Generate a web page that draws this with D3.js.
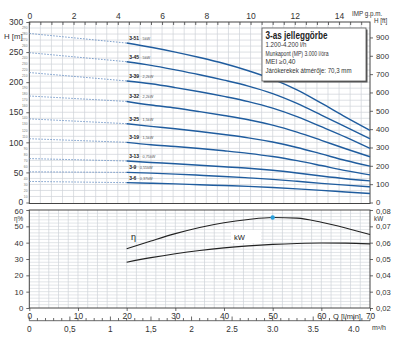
<!DOCTYPE html>
<html><head><meta charset="utf-8">
<script src="https://cdn.jsdelivr.net/npm/d3@7"></script>
<style>
body{margin:0;background:#fff;}
svg{display:block;font-family:"Liberation Sans Narrow","Arial Narrow","Liberation Sans",sans-serif;}
</style></head><body>
<svg id="c" width="400" height="342"></svg>
<script>
// ---------- data ----------
const seriesNames = ["3-51","3-45","3-39","3-32","3-25","3-19","3-13","3-9","3-6"];
const seriesPower = ["5kW","5kW","2,2kW","2,2kW","1,5kW","1,5kW","0,75kW","0,55kW","0,37kW"];
const flowLmin = [20,25,30,35,40,45,50,55,60,65,70];
const shutoffHead = [281,249,216,177,139,106,73,51,35];
const head_3_51 = [265,258,250,241,231,219,205,187,165,142,120];
const head_3_45 = [234,228,220.5,212.4,203.4,193.5,181,164.7,145.4,125.6,106];
const head_3_39 = [202,197.3,191,184,176.3,167.7,156.8,142.7,126,108.8,90];
const head_3_32 = [168,162,157,151,144.6,137.6,128.6,117,103.4,89.3,76];
const head_3_25 = [131,126.5,122.5,118,113,107.5,100.5,91.5,80.8,69.8,60.5];
const head_3_19 = [100,96.1,93.1,89.7,85.9,81.7,76.4,69.5,61.4,53,46];
const head_3_13 = [69,66.5,64.5,62,59.5,57,53.5,49,44,39.5,36];
const head_3_9  = [50,48.8,47.2,45.3,43.3,41,38.5,35.3,31.8,28.8,26];
const head_3_6  = [33,32,31,29.5,28.2,26.8,25,22.7,20.1,17.5,15];
const heads = [head_3_51,head_3_45,head_3_39,head_3_32,head_3_25,head_3_19,head_3_13,head_3_9,head_3_6];
const efficiency = [36.3,41,45.5,49.3,52.2,54.2,55.4,55,52.5,49,45];
const powerKw = [0.048,0.0508,0.0532,0.0552,0.0568,0.058,0.0589,0.0595,0.0598,0.0597,0.0592];
const mpFlow = 50, mpEff = 55.4;
const impTicks = [0,2,4,6,8,10,12,14];
const m3hLabels = ["0","0,5","1","1,5","2","2.5","3.0","3.5","4.0"];
const legendTitle = "3-as jelleggörbe";
const legendLines = ["1.200-4.200 l/h","Munkapont (MP) 3.000 l/óra","MEI ≥0,40","Járókerekek átmérője: 70,3 mm"];

// ---------- scales ----------
const X0 = 29.3, X1 = 370;
const x = d3.scaleLinear([0,70],[X0,X1]);
const xImp = d3.scaleLinear([0,70/4.54609],[X0,X1]);
const xM3 = d3.scaleLinear([0,4.2],[X0,X1]);
const yH = d3.scaleLinear([0,300],[202.5,22]);
const yFt = d3.scaleLinear([0,300/0.3048],[202.5,22]);
const yE = d3.scaleLinear([0,60],[308,210]);
const yK = d3.scaleLinear([0.02,0.08],[308,210]);

const svg = d3.select("#c");
const GRID = "#cfd3d8";
const AX = "#444";
const TXT = "#333";

// ---------- grids ----------
const g1 = svg.append("g");
g1.selectAll("line.v").data(d3.range(0.5,15.4,0.5)).join("line")
  .attr("x1",d=>xImp(d)).attr("x2",d=>xImp(d)).attr("y1",22).attr("y2",203.5)
  .attr("stroke",GRID).attr("stroke-width",0.7);
g1.selectAll("line.h").data(d3.range(10,300,10)).join("line")
  .attr("x1",X0).attr("x2",X1).attr("y1",d=>yH(d)).attr("y2",d=>yH(d))
  .attr("stroke",GRID).attr("stroke-width",0.7);
const g2 = svg.append("g");
g2.selectAll("line.v").data(d3.range(2,70,2)).join("line")
  .attr("x1",d=>x(d)).attr("x2",d=>x(d)).attr("y1",210).attr("y2",308)
  .attr("stroke",GRID).attr("stroke-width",0.7);
g2.selectAll("line.h").data(d3.range(2,60,2)).join("line")
  .attr("x1",X0).attr("x2",X1).attr("y1",d=>yE(d)).attr("y2",d=>yE(d))
  .attr("stroke",GRID).attr("stroke-width",0.6);

// frames
svg.append("rect").attr("x",X0).attr("y",22).attr("width",X1-X0).attr("height",181.5)
  .attr("fill","none").attr("stroke",AX).attr("stroke-width",1);
svg.append("rect").attr("x",X0).attr("y",210).attr("width",X1-X0).attr("height",98)
  .attr("fill","none").attr("stroke",AX).attr("stroke-width",1);

function styleAxis(g, fs){
  g.select(".domain").remove();
  g.selectAll(".tick line").attr("stroke",AX).attr("stroke-width",0.8);
  g.selectAll("text").attr("fill",TXT).attr("font-size",fs).attr("font-family",null);
}

// ---------- top axes ----------
svg.append("g").attr("transform","translate(0,22)")
  .call(d3.axisTop(xImp).tickValues(d3.range(0,15.01,0.5)).tickSize(-3).tickPadding(3)
    .tickFormat(d=>impTicks.includes(d)?d:""))
  .call(g=>styleAxis(g,8.5));
svg.append("g").attr("transform",`translate(${X0},0)`)
  .call(d3.axisLeft(yH).tickValues(d3.range(0,301,50)).tickSize(3).tickPadding(2))
  .call(g=>styleAxis(g,8.5))
  .call(g=>g.selectAll(".tick text").attr("x",-6))
  .call(g=>g.selectAll(".tick").filter(d=>d===0).select("text").attr("dy","0.25em"));
svg.append("g").selectAll("text").data(d3.range(10,300,10).filter(d=>d%50!==0)).join("text")
  .attr("x",27.5).attr("y",d=>yH(d)+1.2).attr("text-anchor","end")
  .attr("font-size",3.3).attr("fill","#777").text(d=>d);
svg.append("g").attr("transform",`translate(${X1},0)`)
  .call(d3.axisRight(yFt).tickValues(d3.range(0,901,100)).tickSize(3).tickPadding(3))
  .call(g=>styleAxis(g,7.8))
  .call(g=>g.selectAll(".tick").filter(d=>d===0).select("text").attr("dy","0.2em"));
svg.append("text").attr("x",4).attr("y",38.5).attr("font-size",7.8).attr("fill",TXT).text("H [m]");
svg.append("text").attr("x",352).attr("y",16).attr("font-size",6.3).attr("fill",TXT).text("IMP g.p.m.");
svg.append("text").attr("x",374).attr("y",22.5).attr("font-size",6.3).attr("fill",TXT).text("H [ft]");

// ---------- bottom axes ----------
svg.append("g").attr("transform",`translate(${X0},0)`)
  .call(d3.axisLeft(yE).tickValues(d3.range(0,61,10)).tickSize(3).tickPadding(2))
  .call(g=>styleAxis(g,7.8))
  .call(g=>g.selectAll(".tick text").attr("x",-6))
  .call(g=>g.selectAll(".tick").filter(d=>d===60).select("text").attr("dy","0.45em"));
svg.append("text").attr("x",14).attr("y",221.3).attr("font-size",6.3).attr("fill",TXT).text("η%");
svg.append("g").attr("transform",`translate(${X1},0)`)
  .call(d3.axisRight(yK).tickValues(d3.range(2,9).map(d=>d/100)).tickSize(3).tickPadding(3)
    .tickFormat(d=>d3.format(".2f")(d).replace(".",",")))
  .call(g=>styleAxis(g,7.6))
  .call(g=>g.selectAll(".tick").filter(d=>d===0.08).select("text").attr("dy","0.4em"));
svg.append("text").attr("x",374).attr("y",221.3).attr("font-size",6.3).attr("fill",TXT).text("kW");
svg.append("g").attr("transform","translate(0,308)")
  .call(d3.axisBottom(x).tickValues(d3.range(0,71,10)).tickSize(3).tickPadding(2))
  .call(g=>styleAxis(g,8.3));
svg.append("text").attr("x",333).attr("y",318.5).attr("font-size",7.5).attr("fill",TXT).text("Q [l/min]");
svg.append("line").attr("x1",X0).attr("x2",X1).attr("y1",320.7).attr("y2",320.7).attr("stroke",AX).attr("stroke-width",0.8);
svg.append("g").selectAll("line").data(d3.range(0,4.201,0.1)).join("line")
  .attr("x1",d=>xM3(d)).attr("x2",d=>xM3(d)).attr("y1",320.7)
  .attr("y2",(d,i)=> i%5===0?316.5:318)
  .attr("stroke",AX).attr("stroke-width",0.8);
svg.append("g").selectAll("text").data(m3hLabels).join("text")
  .attr("x",(d,i)=>xM3(i*0.5)).attr("y",331.5).attr("text-anchor","middle")
  .attr("font-size",8.3).attr("fill",TXT).text(d=>d);
svg.append("text").attr("x",372).attr("y",330).attr("font-size",7).attr("fill",TXT).text("m³/h");

// ---------- pump curves ----------
const line = d3.line().x(d=>x(d[0])).y(d=>yH(d[1])).curve(d3.curveMonotoneX);
heads.forEach((h,i)=>{
  svg.append("line").attr("x1",x(0)).attr("y1",yH(shutoffHead[i]))
    .attr("x2",x(flowLmin[0])).attr("y2",yH(h[0]))
    .attr("stroke","#6f95c6").attr("stroke-width",0.9).attr("stroke-dasharray","1.6,1.4");
  svg.append("path").attr("d",line(flowLmin.map((q,j)=>[q,h[j]])))
    .attr("fill","none").attr("stroke","#1f5c9e").attr("stroke-width",1.4);
  const t = svg.append("text").attr("x",x(flowLmin[0])+2.5).attr("y",yH(h[0])-3).attr("fill","#222");
  t.append("tspan").attr("font-size",5).attr("font-weight","bold").text(seriesNames[i]);
  t.append("tspan").attr("font-size",3.8).attr("fill","#555").text(" · "+seriesPower[i]);
});

// ---------- legend box ----------
svg.append("rect").attr("x",263.5).attr("y",29.5).attr("width",104).attr("height",53).attr("fill","#555");
svg.append("rect").attr("x",262).attr("y",28).attr("width",104).attr("height",53)
  .attr("fill","#fff").attr("stroke","#555").attr("stroke-width",0.8);
svg.append("text").attr("x",265.5).attr("y",39).attr("font-size",10).attr("font-weight","bold")
  .attr("fill","#222").attr("textLength",62).attr("lengthAdjust","spacingAndGlyphs").text(legendTitle);
const lw = [41,63,30,86];
legendLines.forEach((s,i)=>{
  svg.append("text").attr("x",265.5).attr("y",47+i*8.6).attr("font-size",6.4).attr("fill","#333")
    .attr("textLength",lw[i]).attr("lengthAdjust","spacingAndGlyphs").text(s);
});

// ---------- efficiency & power ----------
svg.append("path").attr("d",d3.line().x((d,i)=>x(flowLmin[i])).y(d=>yE(d)).curve(d3.curveMonotoneX)(efficiency))
  .attr("fill","none").attr("stroke","#222").attr("stroke-width",1.2);
svg.append("path").attr("d",d3.line().x((d,i)=>x(flowLmin[i])).y(d=>yK(d)).curve(d3.curveMonotoneX)(powerKw))
  .attr("fill","none").attr("stroke","#222").attr("stroke-width",1.2);
svg.append("circle").attr("cx",x(mpFlow)).attr("cy",yE(mpEff)).attr("r",2.2).attr("fill","#2aa0dc");
svg.append("text").attr("x",131).attr("y",240).attr("font-size",9).attr("fill","#222").text("η");
svg.append("rect").attr("x",231).attr("y",230).attr("width",30).attr("height",13).attr("fill","#fff");
svg.append("text").attr("x",234).attr("y",239.5).attr("font-size",7.5).attr("fill","#222").text("kW");
</script>
</body></html>
